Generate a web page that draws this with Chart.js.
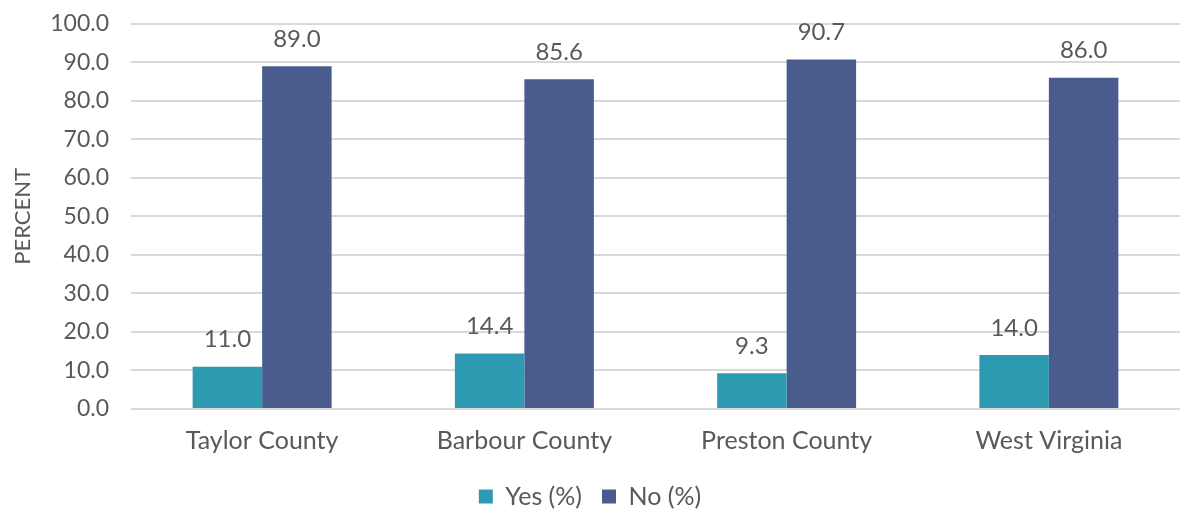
<!DOCTYPE html>
<html>
<head>
<meta charset="utf-8">
<script src="https://cdn.jsdelivr.net/npm/chart.js@4"></script>
<style>
  html, body { margin: 0; padding: 0; background: #fff; overflow: hidden; }
  /* canvas is a bit taller and pulled up, so the plot starts close to the top edge */
  #wrap { width: 1183px; height: 523px; margin-top: -12px; }
</style>
</head>
<body>
<div id="wrap"><canvas id="myChart"></canvas></div>
<script>
var counties = ["Taylor County", "Barbour County", "Preston County", "West Virginia"];
var yesValues = [11.0, 14.4, 9.3, 14.0];
var noValues = [89.0, 85.6, 90.7, 86.0];
var seriesNames = ["Yes (%)", "No (%)"];

var textColor = "#595959";
var fontFamily = "Lato, 'Open Sans', sans-serif";

// value labels above each bar
var barLabels = {
  id: "barLabels",
  afterDatasetsDraw: function (chart) {
    var ctx = chart.ctx;
    ctx.save();
    ctx.fillStyle = textColor;
    ctx.font = "24px " + fontFamily;
    ctx.textAlign = "center";
    ctx.textBaseline = "middle";
    chart.data.datasets.forEach(function (ds, i) {
      chart.getDatasetMeta(i).data.forEach(function (bar, j) {
        ctx.fillText(ds.data[j].toFixed(1), bar.x, bar.y - 27);
      });
    });
    ctx.restore();
  }
};

var ctx = document.getElementById("myChart").getContext("2d");
var myChart = new Chart(ctx, {
  type: "bar",
  data: {
    labels: counties,
    datasets: [
      {
        label: seriesNames[0],
        data: yesValues,
        backgroundColor: "#2E9AB1",
        categoryPercentage: 0.53,
        barPercentage: 1.0,
      },
      {
        label: seriesNames[1],
        data: noValues,
        backgroundColor: "#4A5C8E",
        categoryPercentage: 0.53,
        barPercentage: 1.0,
      },
    ],
  },
  options: {
    responsive: true,
    maintainAspectRatio: false,
    animation: false,
    layout: { padding: { top: 0, right: 3, left: 0, bottom: -8 } },
    plugins: {
      legend: {
        position: "bottom",
        labels: {
          color: textColor,
          font: { family: fontFamily, size: 25 },
          boxWidth: 14,
          boxHeight: 14,
          padding: 20,
        },
      },
      tooltip: { enabled: false },
    },
    scales: {
      x: {
        grid: { display: false },
        border: { display: false },
        ticks: { color: textColor, font: { family: fontFamily, size: 25 }, padding: 9 },
        afterFit: function (scale) { scale.height = 55; },
      },
      y: {
        min: 0,
        max: 100,
        ticks: {
          stepSize: 10,
          color: textColor,
          font: { family: fontFamily, size: 23 },
          padding: 22,
          callback: function (v) { return v.toFixed(1); },
        },
        grid: { color: "#D9D9D9", lineWidth: 2, drawTicks: false },
        border: { display: false },
        title: {
          display: true,
          text: "PERCENT",
          color: textColor,
          font: { family: fontFamily, size: 22 },
          padding: { top: 10, bottom: 0 },
        },
        afterFit: function (scale) { scale.width = 131; },
      },
    },
  },
  plugins: [barLabels],
});
</script>
</body>
</html>
